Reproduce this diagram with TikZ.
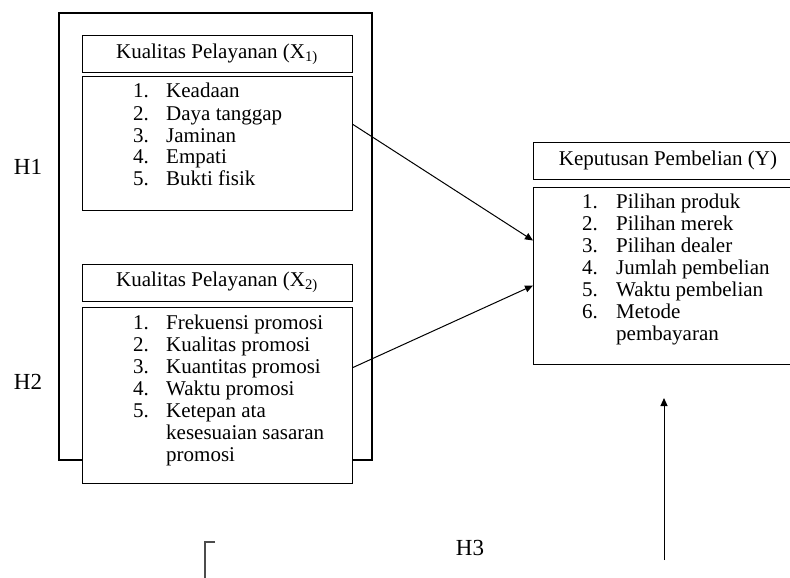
\documentclass[tikz,border=0pt]{standalone}
\usepackage{fontspec}
\setmainfont{Liberation Serif}
\usepackage{tikz}
\usetikzlibrary{arrows.meta,positioning}

\newcommand{\listfont}{\fontsize{21}{22}\selectfont}

\begin{document}
\begin{tikzpicture}[x=1pt, y=-1pt,
    box/.style={draw, line width=1pt, fill=white, minimum width=270pt, inner sep=0pt},
    titlebox/.style={box, minimum height=37pt, font=\listfont},
    listbox/.style={box, anchor=north west},
    items/.style={anchor=base west, inner sep=0pt, font=\listfont},
    hlabel/.style={font=\fontsize{23}{24}\selectfont},
    arr/.style={line width=1pt, -{Triangle[length=8pt,width=7pt]}}]
        % page is 790 x 578, y measured from the top
        \useasboundingbox (0,0) rectangle (790,578);
        \clip (0,0) rectangle (790,578);
        \draw[line width=2.6pt] (59,13) rectangle (372,460);
        % independent variables
        \node[titlebox] (x1title) at (217,54.5) {Kualitas Pelayanan (X\textsubscript{1)}};
        \node[listbox, minimum height=134pt] (x1list) at (82,76) {};
        \node[items] (x1items) at (133,98) {\begin{tabular}[t]{@{}p{33pt}@{}l@{}}
            1. & Keadaan\\ 2. & Daya tanggap\\ 3. & Jaminan\\ 4. & Empati\\ 5. & Bukti fisik
            \end{tabular}};
        \node[titlebox] (x2title) at (217,282.5) {Kualitas Pelayanan (X\textsubscript{2)}};
        \node[listbox, minimum height=176pt] (x2list) at (82,307) {};
        \node[items] (x2items) at (133,329) {\begin{tabular}[t]{@{}p{33pt}@{}l@{}}
            1. & Frekuensi promosi\\ 2. & Kualitas promosi\\ 3. & Kuantitas promosi\\
            4. & Waktu promosi\\ 5. & Ketepan ata\\ & kesesuaian sasaran\\ & promosi
            \end{tabular}};
        % dependent variable
        \node[titlebox] (ytitle) at (668,160.5) {Keputusan Pembelian (Y)};
        \node[listbox, minimum height=177pt] (ylist) at (533,187) {};
        \node[items] (yitems) at (582,208.5) {\begin{tabular}[t]{@{}p{34pt}@{}l@{}}
            1. & Pilihan produk\\ 2. & Pilihan merek\\ 3. & Pilihan dealer\\
            4. & Jumlah pembelian\\ 5. & Waktu pembelian\\ 6. & Metode\\ & pembayaran
            \end{tabular}};
        % hypotheses
        \node[hlabel] (h1) at (28,167) {H1};
        \node[hlabel] (h2) at (28,382) {H2};
        \node[hlabel] (h3) at (470,548) {H3};
        \draw[arr] ([yshift=19pt]x1list.east) -- ([yshift=35.5pt]ylist.west);
        \draw[arr] ([yshift=28pt]x2list.east) -- ([yshift=-9.5pt]ylist.west);
        \coordinate (h3base) at (664,560);
        \coordinate (h3tip) at (664,398);
        \draw[arr] (h3base) -- (h3tip);
        \draw[line width=2pt, black!70] (215,542) -- (205,542) -- (205,590);
\end{tikzpicture}
\end{document}
